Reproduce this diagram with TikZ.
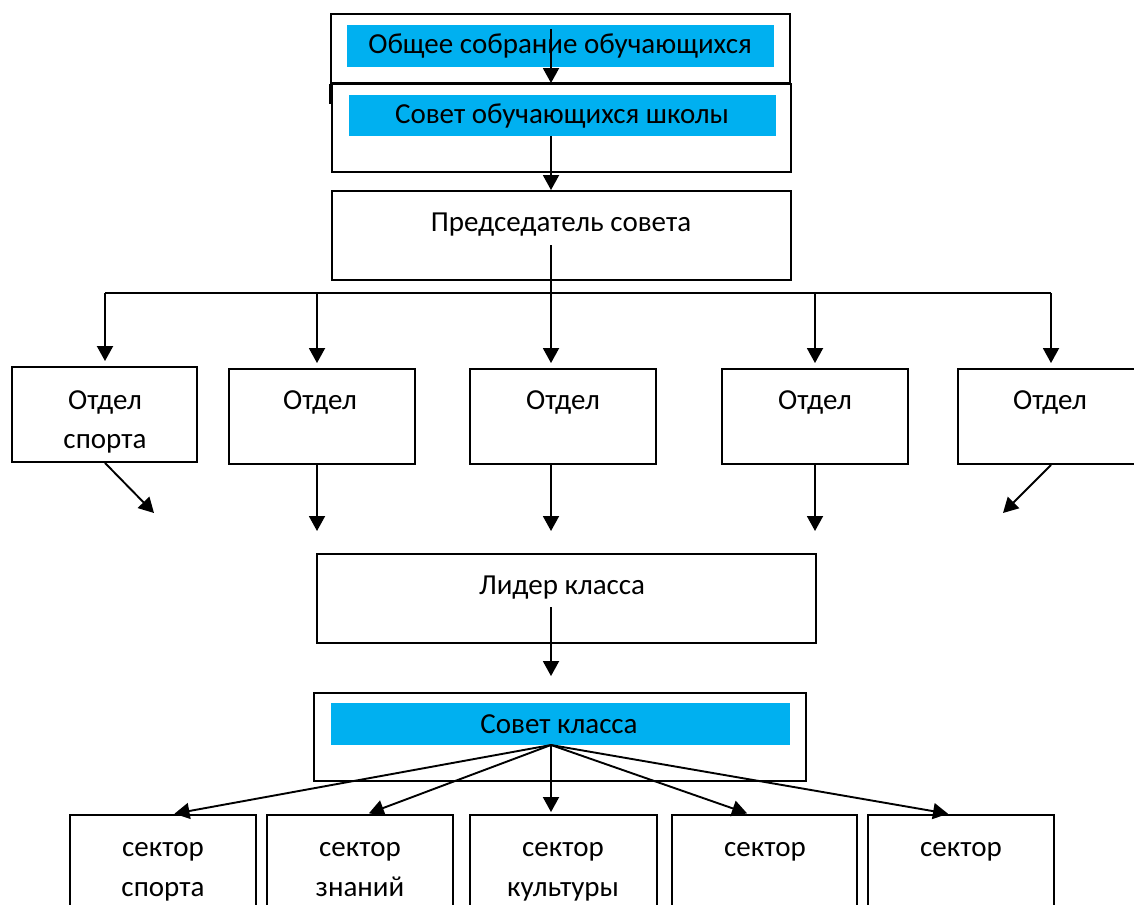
\documentclass[tikz,border=0pt]{standalone}
\usepackage{fontspec}
\setmainfont{Carlito}
\usetikzlibrary{arrows.meta,fit}
\definecolor{bandblue}{HTML}{00B0F0}
\tikzset{
 boxn/.style={draw, line width=1.9pt, inner sep=0pt},
 band/.style={fill=bandblue, inner sep=0pt},
 lbl/.style={anchor=base, inner sep=0pt, font=\fontsize{29}{40}\selectfont},
 conn/.style={line width=1.9pt},
 arr/.style={line width=1.9pt, -{Triangle[length=15pt,width=16pt]}},
}
\begin{document}
\begin{tikzpicture}[x=1pt,y=-1pt]
\useasboundingbox (0,0) rectangle (1134,904);
\clip (0,0) rectangle (1134,904);
% top boxes
\node[boxn, fit={(331,14) (790,83)}] (gen) {};
\node[band, fit={(347,25) (774,67)}] (genb) {};
\node[lbl] (gent) at (560,54) {Общее собрание обучающихся};
\draw[conn] (gen.south west) -- ++(0,20);
\node[boxn, fit={(332,84) (791,172)}] (sov) {};
\node[band, fit={(349,95) (776,136)}] (sovb) {};
\node[lbl] (sovt) at (562,124) {Совет обучающихся школы};
\node[boxn, fit={(332,191) (791,280)}] (pred) {};
\node[lbl] (predt) at (561,231) {Председатель совета};
\coordinate (a1) at (551,29);
\draw[arr] (a1) -- (a1 |- sov.north);
\draw[arr] (sovb.south -| a1) -- (a1 |- pred.north);
% departments
\node[boxn, fit={(12,367) (197,462)}] (o1) {};
\node[boxn, fit={(229,369) (415,464)}] (o2) {};
\node[boxn, fit={(470,369) (656,464)}] (o3) {};
\node[boxn, fit={(722,369) (908,464)}] (o4) {};
\node[boxn, fit={(958,369) (1145,464)}] (o5) {};
\node[lbl] (o1t) at (105,409) {Отдел};
\node[lbl] (o1u) at (105,448) {спорта};
\node[lbl] (o2t) at (320,409) {Отдел};
\node[lbl] (o3t) at (563,409) {Отдел};
\node[lbl] (o4t) at (815,409) {Отдел};
\node[lbl] (o5t) at (1050,409) {Отдел};
\coordinate (pc) at (551,245);
\coordinate (h1) at (105,293);
\coordinate (h2) at (317,293);
\coordinate (h4) at (815,293);
\coordinate (h5) at (1051,293);
\draw[conn] (h1) -- (h5);
\draw[arr, shorten >=5pt] (pc) -- (pc |- o3.north);
\foreach \h/\o in {h1/o1,h2/o2,h4/o4,h5/o5}
  \draw[arr, shorten >=5pt] (\h) -- (\h |- \o.north);
\coordinate (d1) at (154,513);
\coordinate (d2) at (317,531);
\coordinate (d3) at (551,531);
\coordinate (d4) at (815,531);
\coordinate (d5) at (1003,513);
\draw[arr] (h1 |- o1.south) -- (d1);
\draw[arr] (h2 |- o2.south) -- (d2);
\draw[arr] (pc |- o3.south) -- (d3);
\draw[arr] (h4 |- o4.south) -- (d4);
\draw[arr] (h5 |- o5.south) -- (d5);
% leader
\node[boxn, fit={(317,554) (816,643)}] (lid) {};
\node[lbl] (lidt) at (562,594) {Лидер класса};
% class council
\node[boxn, fit={(314,693) (806,781)}] (sk) {};
\node[band, fit={(331,703) (790,745)}] (skb) {};
\node[lbl] (skt) at (559,733) {Совет класса};
\coordinate (l0) at (551,607);
\draw[arr, shorten >=16pt] (l0) -- (l0 |- sk.north);
\coordinate (fan) at (551,745);
% sectors
\node[boxn, fit={(70,815) (256,915)}] (s1) {};
\node[boxn, fit={(267,815) (453,915)}] (s2) {};
\node[boxn, fit={(470,815) (657,915)}] (s3) {};
\node[boxn, fit={(672,815) (857,915)}] (s4) {};
\node[boxn, fit={(868,815) (1054,915)}] (s5) {};
\node[lbl] (s1t) at (163,856) {сектор};
\node[lbl] (s1u) at (163,896) {спорта};
\node[lbl] (s2t) at (360,856) {сектор};
\node[lbl] (s2u) at (360,896) {знаний};
\node[lbl] (s3t) at (563,856) {сектор};
\node[lbl] (s3u) at (563,896) {культуры};
\node[lbl] (s4t) at (765,856) {сектор};
\node[lbl] (s5t) at (961,856) {сектор};
\draw[arr, shorten >=2pt] (fan) -- ([xshift=9.5pt]s1.north);
\draw[arr, shorten >=2pt] (fan) -- ([xshift=7pt]s2.north);
\draw[arr, shorten >=2pt] (fan) -- (fan |- s3.north);
\draw[arr, shorten >=2pt] (fan) -- ([xshift=-15.5pt]s4.north);
\draw[arr, shorten >=2pt] (fan) -- ([xshift=-11pt]s5.north);
\end{tikzpicture}
\end{document}
